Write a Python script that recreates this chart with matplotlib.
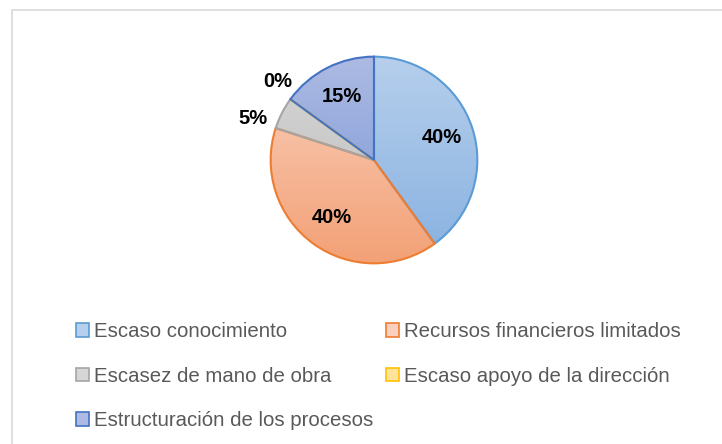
import numpy as np
import matplotlib.pyplot as plt
from matplotlib.colors import LinearSegmentedColormap
from matplotlib.patches import Rectangle

categories = ['Escaso conocimiento', 'Recursos financieros limitados',
              'Escasez de mano de obra', 'Escaso apoyo de la dirección',
              'Estructuración de los procesos']
values = [40, 40, 5, 0, 15]
labels = ['40%', '40%', '5%', '0%', '15%']

edge_colors = ['#5b9bd5', '#ed7d31', '#a5a5a5', '#ffc000', '#4472c4']
grad_top = ['#b6cfec', '#f9d0bd', '#d6d6d6', '#ffe39a', '#adbbe3']
grad_bottom = ['#88b1e0', '#f3a176', '#bcbcbc', '#ffcf4a', '#7592d6']


def main():
    plt.rcParams['font.family'] = ['Liberation Sans', 'DejaVu Sans']
    fig = plt.figure(figsize=(7.22, 4.44), dpi=100)
    fig.patches.append(Rectangle((12 / 722, -0.1), 1.2, (444 - 10) / 444 + 0.1,
                                 transform=fig.transFigure, fill=False,
                                 edgecolor='#d9d9d9', linewidth=1.2))

    ax = fig.add_axes([(374 - 124) / 722, (284 - 124) / 444, 248 / 722, 248 / 444])
    wedges, _ = ax.pie(values, startangle=90, counterclock=False, radius=1,
                       wedgeprops=dict(linewidth=1.5))
    ax.set_aspect('equal')
    ax.axis('off')

    grad = np.linspace(1, 0, 256).reshape(-1, 1)
    for i, w in enumerate(wedges):
        w.set_facecolor('none')
        w.set_edgecolor(edge_colors[i])
        w.set_zorder(3)
        cmap = LinearSegmentedColormap.from_list('g', [grad_bottom[i], grad_top[i]])
        im = ax.imshow(grad, cmap=cmap, extent=(-1, 1, -1, 1), aspect='auto',
                       zorder=2, vmin=0, vmax=1)
        im.set_clip_path(w)
    ax.set_xlim(-1.2, 1.2)
    ax.set_ylim(-1.2, 1.2)

    # data labels: inside for large slices, outside for small ones
    for i, w in enumerate(wedges):
        mid = np.deg2rad((w.theta1 + w.theta2) / 2)
        if values[i] >= 10:
            r, da = 0.69, 0
        elif values[i] > 0:
            r, da = 1.24, np.deg2rad(8)
        else:
            r, da = 1.2, np.deg2rad(-3)
        ax.text(r * np.cos(mid + da), r * np.sin(mid + da), labels[i],
                ha='center', va='center', fontsize=14.5, fontweight='bold',
                color='black', zorder=5)

    handles = []
    for i in range(len(categories)):
        handles.append(Rectangle((0, 0), 1, 1, facecolor=grad_top[i],
                                 edgecolor=edge_colors[i], linewidth=1.2))
    order = [0, 2, 4, 1, 3]
    fig.legend([handles[k] for k in order], [categories[k] for k in order],
               ncol=2, loc='upper left', bbox_to_anchor=(76 / 722, 1 - 322 / 444),
               frameon=False, fontsize=14.7, labelcolor='#595959',
               handlelength=0.65, handleheight=0.65, handletextpad=0.25,
               columnspacing=0.6, labelspacing=1.25, borderpad=0,
               borderaxespad=0)

    fig.savefig('out.png', dpi=100)


if __name__ == '__main__':
    main()
